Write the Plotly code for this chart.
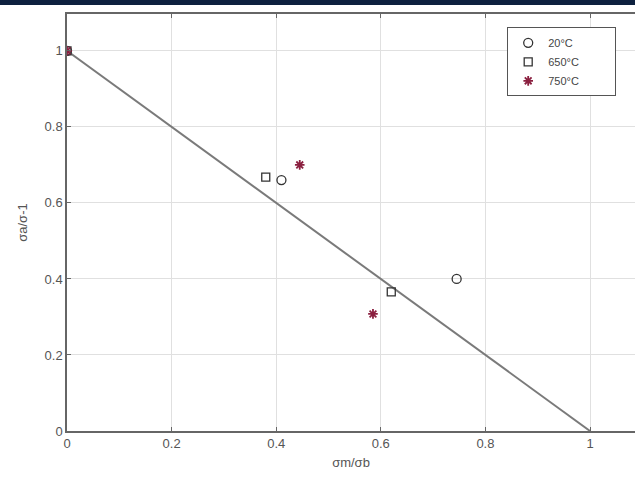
import plotly.graph_objects as go

# Normalised stress data (σm/σb, σa/σ-1) at three test temperatures
x_20 = [0.0, 0.41, 0.745]
y_20 = [1.0, 0.66, 0.40]
x_650 = [0.0, 0.38, 0.62]
y_650 = [1.0, 0.668, 0.366]
x_750 = [0.0, 0.445, 0.585]
y_750 = [1.0, 0.70, 0.308]

# Goodman line
line_x = [0.0, 1.0]
line_y = [1.0, 0.0]

tick_vals = [0, 0.2, 0.4, 0.6, 0.8, 1]
tick_text = ["0", "0.2", "0.4", "0.6", "0.8", "1"]

gray_font = dict(family="Liberation Sans, Arial, sans-serif", size=13, color="#555555")
pad = "\u00a0" * 10

fig = go.Figure()
fig.add_trace(go.Scatter(x=line_x, y=line_y, mode="lines",
                         line=dict(color="#7a7a7a", width=2), showlegend=False))
fig.add_trace(go.Scatter(x=x_20, y=y_20, mode="markers", name="20°C" + pad,
                         marker=dict(symbol="circle-open", size=9, color="#333333",
                                     line=dict(width=1.3))))
fig.add_trace(go.Scatter(x=x_650, y=y_650, mode="markers", name="650°C" + pad,
                         marker=dict(symbol="square-open", size=8, color="#333333",
                                     line=dict(width=1.3))))
fig.add_trace(go.Scatter(x=x_750, y=y_750, mode="markers", name="750°C" + pad,
                         marker=dict(symbol="asterisk-open", size=8, color="#8b2040",
                                     line=dict(width=1.8, color="#8b2040"))))

axis_common = dict(
    showgrid=True, gridcolor="#e0e0e0", gridwidth=1,
    showline=True, linecolor="#666666", linewidth=1.5,
    ticks="inside", ticklen=4, tickcolor="#666666",
    zeroline=False, tickfont=gray_font,
    tickvals=tick_vals, ticktext=tick_text,
)

fig.update_layout(
    width=635, height=479,
    margin=dict(l=67, r=0, t=14, b=48),
    paper_bgcolor="white", plot_bgcolor="white",
    xaxis=dict(range=[0, 1.086], mirror="ticks",
               title=dict(text="σm/σb", font=gray_font, standoff=8),
               **axis_common),
    yaxis=dict(range=[0, 1.097], mirror=False,
               title=dict(text="σa/σ-1", font=gray_font, standoff=14),
               **axis_common),
    legend=dict(x=0.775, y=0.968, xanchor="left", yanchor="top",
                bgcolor="white", bordercolor="#555555", borderwidth=1,
                font=dict(family="Liberation Sans, Arial, sans-serif", size=11, color="#444444"),
                itemwidth=30, tracegroupgap=0),
    shapes=[
        dict(type="rect", xref="paper", yref="paper",
             x0=-0.2, x1=1.2, y0=1 + 9 / 417, y1=1 + 20 / 417,
             fillcolor="#0e213f", line=dict(width=0), layer="above"),
    ],
)

fig.write_html("out.html")
